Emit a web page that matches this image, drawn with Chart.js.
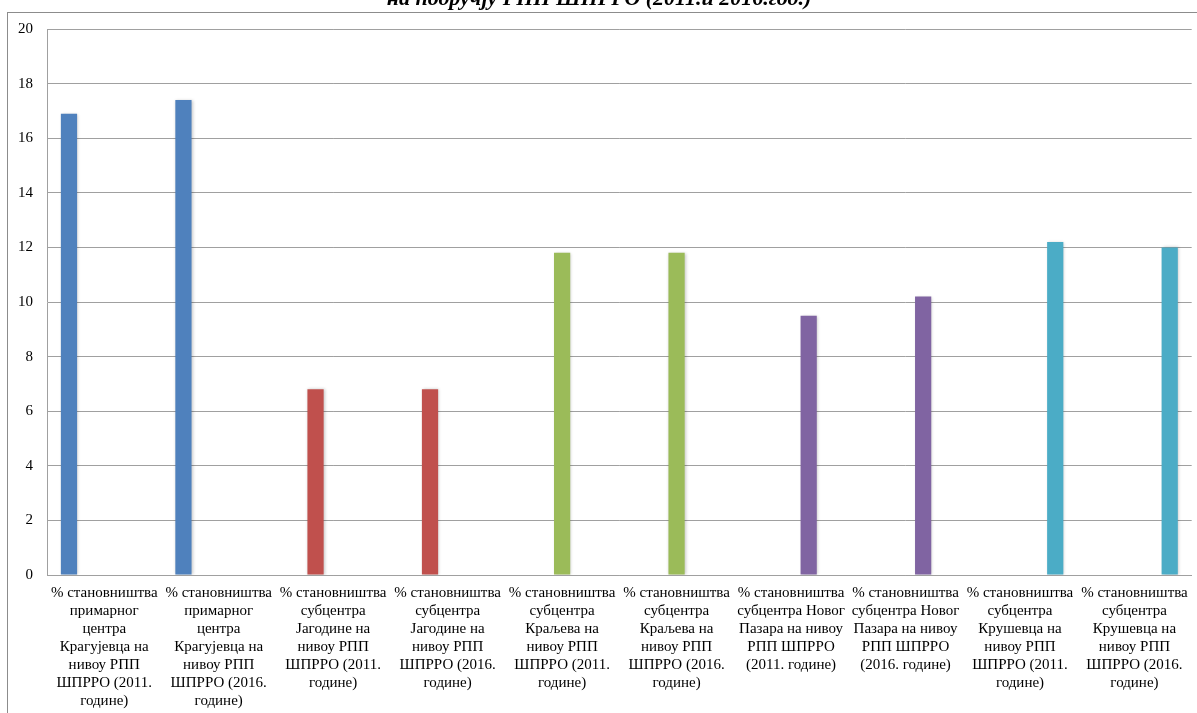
<!DOCTYPE html>
<html>
<head>
<meta charset="utf-8">
<script src="https://cdn.jsdelivr.net/npm/chart.js@4/dist/chart.umd.min.js"></script>
<style>
  html, body { margin: 0; padding: 0; background: #fff; }
  #wrap { width: 1197px; height: 713px; }
</style>
</head>
<body>
<div id="wrap"><canvas id="grafik"></canvas></div>
<script>
// Podaci
const naslov = 'на подручју РПП ШПРРО (2011.и 2016.год.)';

const kategorije = [
  ['% становништва', 'примарног', 'центра', 'Крагујевца на', 'нивоу РПП', 'ШПРРО (2011.', 'године)'],
  ['% становништва', 'примарног', 'центра', 'Крагујевца на', 'нивоу РПП', 'ШПРРО (2016.', 'године)'],
  ['% становништва', 'субцентра', 'Јагодине на', 'нивоу РПП', 'ШПРРО (2011.', 'године)'],
  ['% становништва', 'субцентра', 'Јагодине на', 'нивоу РПП', 'ШПРРО (2016.', 'године)'],
  ['% становништва', 'субцентра', 'Краљева на', 'нивоу РПП', 'ШПРРО (2011.', 'године)'],
  ['% становништва', 'субцентра', 'Краљева на', 'нивоу РПП', 'ШПРРО (2016.', 'године)'],
  ['% становништва', 'субцентра Новог', 'Пазара на нивоу', 'РПП ШПРРО', '(2011. године)'],
  ['% становништва', 'субцентра Новог', 'Пазара на нивоу', 'РПП ШПРРО', '(2016. године)'],
  ['% становништва', 'субцентра', 'Крушевца на', 'нивоу РПП', 'ШПРРО (2011.', 'године)'],
  ['% становништва', 'субцентра', 'Крушевца на', 'нивоу РПП', 'ШПРРО (2016.', 'године)']
];

// jedna serija po centru, ostala mesta su prazna
const kragujevac = [16.9, 17.4, null, null, null, null, null, null, null, null];
const jagodina   = [null, null, 6.8, 6.8, null, null, null, null, null, null];
const kraljevo   = [null, null, null, null, 11.8, 11.8, null, null, null, null];
const noviPazar  = [null, null, null, null, null, null, 9.5, 10.2, null, null];
const krusevac   = [null, null, null, null, null, null, null, null, 12.2, 12.0];

const yTicks = [0, 2, 4, 6, 8, 10, 12, 14, 16, 18, 20];

const boje = ['#4F81BD', '#C0504D', '#9BBB59', '#8064A2', '#4BACC6'];
const serije = [kragujevac, jagodina, kraljevo, noviPazar, krusevac];

// okvir i naslov (naslov je odsecen na vrhu kao na slici)
const okvirPlugin = {
  id: 'okvir',
  beforeDraw(chart) {
    const c = chart.ctx;
    c.save();
    c.fillStyle = '#fff';
    c.fillRect(0, 0, chart.width, chart.height);
    c.strokeStyle = '#8c8c8c';
    c.lineWidth = 1;
    c.strokeRect(7.5, 12.5, chart.width + 10, chart.height + 10);
    c.restore();
  },
  afterDraw(chart) {
    const c = chart.ctx;
    c.save();
    c.fillStyle = '#000';
    c.font = 'bold italic 22px "Liberation Serif"';
    c.textAlign = 'center';
    c.textBaseline = 'alphabetic';
    c.fillText(naslov, 599, 5);
    c.restore();
  }
};

// blaga senka oko stubova
const senkaPlugin = {
  id: 'senka',
  beforeDatasetsDraw(chart) {
    const c = chart.ctx;
    c.save();
    c.shadowColor = 'rgba(0,0,0,0.22)';
    c.shadowBlur = 3;
    c.shadowOffsetX = 1;
    c.shadowOffsetY = 0;
  },
  afterDatasetsDraw(chart) {
    chart.ctx.restore();
  }
};

const ctx = document.getElementById('grafik').getContext('2d');
new Chart(ctx, {
  type: 'bar',
  data: {
    labels: kategorije,
    datasets: serije.map((s, i) => ({
      data: s,
      backgroundColor: boje[i],
      borderWidth: 0,
      barPercentage: 0.92,
      categoryPercentage: 0.77
    }))
  },
  options: {
    responsive: true,
    maintainAspectRatio: false,
    animation: false,
    layout: { padding: { top: 29, right: 5, left: 0, bottom: 0 } },
    plugins: {
      legend: { display: false },
      tooltip: { enabled: false }
    },
    scales: {
      x: {
        grid: { display: false, drawTicks: false },
        border: { display: true, color: '#a0a0a0' },
        ticks: {
          color: '#000',
          font: { family: '"Liberation Serif"', size: 15, lineHeight: 1.2 },
          padding: 9,
          maxRotation: 0,
          minRotation: 0,
          autoSkip: false
        },
        afterFit(axis) { axis.height = 138; }
      },
      y: {
        min: 0,
        max: 20,
        afterBuildTicks(axis) { axis.ticks = yTicks.map(v => ({ value: v })); },
        grid: { color: '#a0a0a0', drawTicks: false },
        border: { display: true, color: '#a0a0a0' },
        ticks: {
          color: '#000',
          font: { family: '"Liberation Serif"', size: 15 },
          padding: 14
        },
        afterFit(axis) { axis.width = 47; }
      }
    }
  },
  plugins: [okvirPlugin, senkaPlugin]
});
</script>
</body>
</html>
